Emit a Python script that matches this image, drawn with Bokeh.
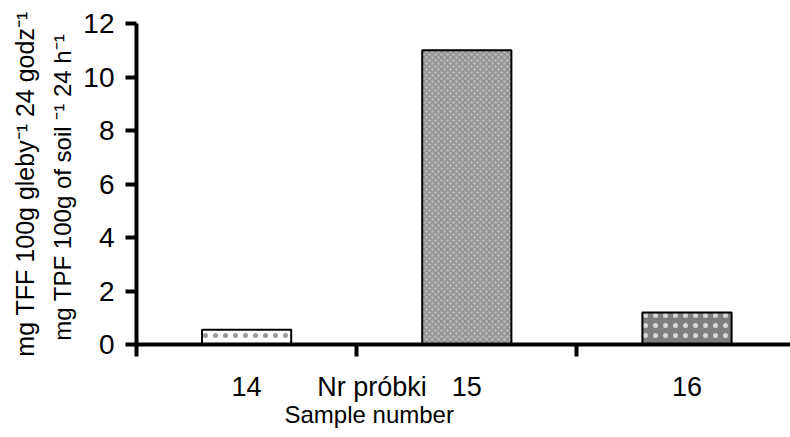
from bokeh.plotting import figure
from bokeh.models import Range1d, FixedTicker, LinearAxis, ColumnDataSource, Title
from bokeh.embed import file_html
from bokeh.resources import INLINE

# ---- data ----
samples = ["14", "15", "16"]
values = [0.55, 11.0, 1.2]
y_ticks = [0, 2, 4, 6, 8, 10, 12]
boundary_ticks = [0, 1, 2]
ylabel_pl = "mg TFF 100g gleby\u207b\u00b9 24 godz\u207b\u00b9"
ylabel_en = "mg TPF  100g of soil \u207b\u00b9 24 h\u207b\u00b9"
xlabel_pl = "Nr próbki"
xlabel_en = "Sample number"
xlabel_pl_pos = 1.07   # where "Nr próbki" sits along the category axis

# ---- styles (not data) ----
fills = ["#ffffff", "#b4b4b4", "#7f7f7f"]
hatches = ["dot", "diagonal_cross", "dot"]
hatch_colors = ["#9a9a9a", "#8a8a8a", "#d8d8d8"]
hatch_scales = [10, 6, 10]
hatch_weights = [1.0, 1.2, 1.0]

FONT = "Liberation Sans"

centers = [i + 0.5 for i in range(len(samples))]
src = ColumnDataSource(dict(x=centers, top=values, fill=fills, hatch=hatches,
                            hcol=hatch_colors, hscale=hatch_scales, hw=hatch_weights))

p = figure(width=790, height=437, x_range=Range1d(0, 2.97), y_range=Range1d(0, 12),
           output_backend="svg", toolbar_location=None,
           min_border_left=136, min_border_right=0, min_border_top=23, min_border_bottom=93)
p.xgrid.visible = False
p.ygrid.visible = False
p.outline_line_color = None
p.background_fill_color = "white"
p.border_fill_color = "white"

p.vbar(x="x", top="top", width=0.405, source=src, fill_color="fill",
       line_color="black", line_width=2,
       hatch_pattern="hatch", hatch_color="hcol", hatch_scale="hscale", hatch_weight="hw")

# y axis
ya = p.yaxis[0]
ya.ticker = FixedTicker(ticks=y_ticks)
ya.axis_line_width = 4
ya.major_tick_line_width = 4
ya.major_tick_out = 11
ya.major_tick_in = 0
ya.minor_tick_line_color = None
ya.major_label_text_font = FONT
ya.major_label_text_font_size = "28px"
ya.major_label_text_color = "black"
ya.major_label_standoff = 11
ya.axis_label = ylabel_en
ya.axis_label_text_font = FONT
ya.axis_label_text_font_size = "24px"
ya.axis_label_text_font_style = "normal"
ya.axis_label_text_color = "black"
ya.axis_label_standoff = 4

ya2 = LinearAxis(ticker=FixedTicker(ticks=[]), axis_line_color=None,
                 major_tick_line_color=None, minor_tick_line_color=None,
                 major_tick_out=0, major_label_standoff=0,
                 axis_label=ylabel_pl, axis_label_text_font=FONT,
                 axis_label_text_font_size="25px", axis_label_text_font_style="normal",
                 axis_label_text_color="black", axis_label_standoff=8)
p.add_layout(ya2, "left")

# x axis: category labels as major labels, boundaries as minor ticks
label_pos = centers + [xlabel_pl_pos]
label_txt = samples + [xlabel_pl]
xa = p.xaxis[0]
xa.ticker = FixedTicker(ticks=label_pos, minor_ticks=boundary_ticks)
xa.major_label_overrides = {pos: txt for pos, txt in zip(label_pos, label_txt)}
xa.axis_line_width = 4
xa.major_tick_line_color = None
xa.major_tick_out = 12
xa.major_tick_in = 0
xa.minor_tick_line_color = "black"
xa.minor_tick_line_width = 4
xa.minor_tick_out = 12
xa.minor_tick_in = 0
xa.major_label_text_font = FONT
xa.major_label_text_font_size = "27px"
xa.major_label_text_color = "black"
xa.major_label_standoff = 15

p.add_layout(Title(text=xlabel_en, align="left", offset=148, text_font=FONT,
                   text_font_size="24px", text_font_style="normal", text_color="black",
                   standoff=-12), "below")

open("out.html", "w").write(file_html(p, INLINE))
